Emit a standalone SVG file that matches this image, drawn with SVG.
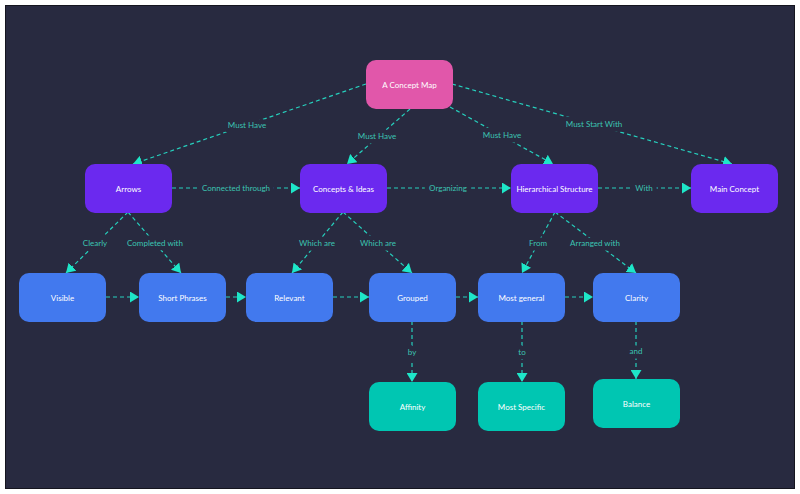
<svg xmlns="http://www.w3.org/2000/svg" width="800" height="494" viewBox="0 0 800 494">
<defs>
<marker id="ah" markerUnits="userSpaceOnUse" markerWidth="10" markerHeight="11" refX="9" refY="5.5" orient="auto" viewBox="0 0 10 11">
<path d="M0,0 L9,5.5 L0,11 z" fill="#1ee6c8"/>
</marker>
<style>
.n rect{rx:10;ry:10}
.n text{font-family:Lato,"Open Sans",sans-serif;font-size:8px;fill:#ffffff;text-anchor:middle;dominant-baseline:central}
.pink{fill:#e157aa}.purple{fill:#6b29ef}.blue{fill:#4279ee}.teal{fill:#00c6b2}
#edges line{stroke:#26d0bd;stroke-width:1.2;stroke-dasharray:4 3;fill:none;marker-end:url(#ah)}
#edges text{font-family:Lato,"Open Sans",sans-serif;font-size:8px;fill:#3cc4b2;text-anchor:middle;dominant-baseline:central;stroke:#282a40;stroke-width:9;paint-order:stroke;stroke-linejoin:round}
</style>
</defs>
<rect x="0" y="0" width="800" height="494" fill="#ffffff"/>
<rect x="5.5" y="5.5" width="789" height="483" fill="#282a40" stroke="#15151f" stroke-width="1"/>
<g id="edges">
<line x1="366" y1="84" x2="133" y2="164"/>
<line x1="410" y1="109" x2="347" y2="164"/>
<line x1="450" y1="107" x2="553" y2="164"/>
<line x1="452" y1="84" x2="732" y2="164"/>
<line x1="172" y1="188" x2="300" y2="188"/>
<line x1="387" y1="188" x2="511" y2="188"/>
<line x1="598" y1="188" x2="691" y2="188"/>
<line x1="128" y1="212" x2="66" y2="273"/>
<line x1="128" y1="212" x2="181" y2="273"/>
<line x1="343" y1="212" x2="292" y2="273"/>
<line x1="343" y1="212" x2="412" y2="273"/>
<line x1="555" y1="212" x2="522" y2="273"/>
<line x1="555" y1="212" x2="636" y2="273"/>
<line x1="106" y1="297" x2="139" y2="297"/>
<line x1="226" y1="297" x2="246" y2="297"/>
<line x1="333" y1="297" x2="369" y2="297"/>
<line x1="456" y1="297" x2="478" y2="297"/>
<line x1="565" y1="297" x2="593" y2="297"/>
<line x1="412" y1="321" x2="412" y2="382"/>
<line x1="522" y1="321" x2="522" y2="382"/>
<line x1="636" y1="321" x2="636" y2="379"/>
<text x="247" y="125">Must Have</text>
<text x="377" y="136">Must Have</text>
<text x="502" y="135">Must Have</text>
<text x="594" y="124">Must Start With</text>
<text x="236" y="188">Connected through</text>
<text x="448" y="188">Organizing</text>
<text x="644" y="188">With</text>
<text x="95" y="243">Clearly</text>
<text x="155" y="243">Completed with</text>
<text x="317" y="243">Which are</text>
<text x="378" y="243">Which are</text>
<text x="538" y="243">From</text>
<text x="595" y="243">Arranged with</text>
<text x="412" y="352">by</text>
<text x="522" y="352">to</text>
<text x="636" y="351">and</text>
</g>
<g id="n-map" class="n"><rect class="pink" x="366" y="60" width="87" height="49"/><text x="409.5" y="84.5">A Concept Map</text></g>
<g id="n-arrows" class="n"><rect class="purple" x="85" y="164" width="87" height="49"/><text x="128.5" y="188.5">Arrows</text></g>
<g id="n-concepts" class="n"><rect class="purple" x="300" y="164" width="87" height="49"/><text x="343.5" y="188.5">Concepts &amp; Ideas</text></g>
<g id="n-hier" class="n"><rect class="purple" x="511" y="164" width="87" height="49"/><text x="554.5" y="188.5">Hierarchical Structure</text></g>
<g id="n-main" class="n"><rect class="purple" x="691" y="164" width="87" height="49"/><text x="734.5" y="188.5">Main Concept</text></g>
<g id="n-visible" class="n"><rect class="blue" x="19" y="273" width="87" height="49"/><text x="62.5" y="297.5">Visible</text></g>
<g id="n-short" class="n"><rect class="blue" x="139" y="273" width="87" height="49"/><text x="182.5" y="297.5">Short Phrases</text></g>
<g id="n-relevant" class="n"><rect class="blue" x="246" y="273" width="87" height="49"/><text x="289.5" y="297.5">Relevant</text></g>
<g id="n-grouped" class="n"><rect class="blue" x="369" y="273" width="87" height="49"/><text x="412.5" y="297.5">Grouped</text></g>
<g id="n-general" class="n"><rect class="blue" x="478" y="273" width="87" height="49"/><text x="521.5" y="297.5">Most general</text></g>
<g id="n-clarity" class="n"><rect class="blue" x="593" y="273" width="87" height="49"/><text x="636.5" y="297.5">Clarity</text></g>
<g id="n-affinity" class="n"><rect class="teal" x="369" y="382" width="87" height="49"/><text x="412.5" y="406.5">Affinity</text></g>
<g id="n-specific" class="n"><rect class="teal" x="478" y="382" width="87" height="49"/><text x="521.5" y="406.5">Most Specific</text></g>
<g id="n-balance" class="n"><rect class="teal" x="593" y="379" width="87" height="49"/><text x="636.5" y="403.5">Balance</text></g>
</svg>
